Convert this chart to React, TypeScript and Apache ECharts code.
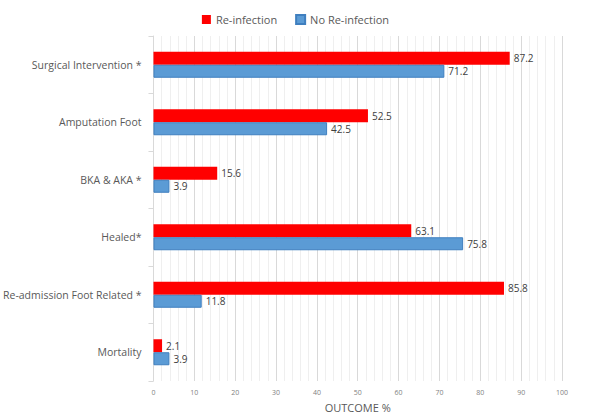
import React, { useEffect, useRef } from "react";
import * as echarts from "echarts";

const categories = [
  "Surgical Intervention *",
  "Amputation Foot",
  "BKA & AKA *",
  "Healed*",
  "Re-admission Foot Related *",
  "Mortality",
];
const reInfection = [87.2, 52.5, 15.6, 63.1, 85.8, 2.1];
const noReInfection = [71.2, 42.5, 3.9, 75.8, 11.8, 3.9];

const FONT = "'Open Sans', sans-serif";

const App = () => {
  const chartRef = useRef<HTMLDivElement>(null);

  useEffect(() => {
    document.body.style.margin = "0";
    if (!chartRef.current) return;
    const chart = echarts.init(chartRef.current, null, { renderer: "svg" });

    const labelStyle = {
      show: true,
      position: "right" as const,
      color: "#404040",
      fontSize: 10,
      fontFamily: FONT,
      distance: 4,
    };

    chart.setOption({
      animation: false,
      textStyle: { fontFamily: FONT },
      legend: {
        top: 9,
        left: "center",
        itemWidth: 9,
        itemHeight: 9,
        itemGap: 18,
        icon: "rect",
        textStyle: { color: "#595959", fontSize: 11, fontFamily: FONT },
        data: ["Re-infection", "No Re-infection"],
      },
      grid: { left: 153, right: 29, top: 36, bottom: 33 },
      xAxis: {
        type: "value",
        min: 0,
        max: 100,
        interval: 10,
        name: "OUTCOME %",
        nameLocation: "middle",
        nameGap: 21,
        nameTextStyle: { color: "#595959", fontSize: 11, fontFamily: FONT },
        axisLine: { show: false },
        axisTick: { show: false },
        axisLabel: { color: "#7f7f7f", fontSize: 7, margin: 8 },
        splitLine: { show: true, lineStyle: { color: "#d9d9d9", width: 1 } },
        minorTick: { show: false, splitNumber: 5 },
        minorSplitLine: { show: true, lineStyle: { color: "#efefef", width: 1 } },
      },
      yAxis: {
        type: "category",
        inverse: true,
        data: categories,
        axisLine: { show: true, lineStyle: { color: "#d9d9d9" } },
        axisTick: { show: true, length: 5, lineStyle: { color: "#d9d9d9" } },
        axisLabel: { color: "#595959", fontSize: 10.5, margin: 12, fontFamily: FONT },
        splitLine: { show: false },
      },
      series: [
        {
          name: "Re-infection",
          type: "bar",
          data: reInfection,
          barWidth: 13,
          barGap: "0%",
          itemStyle: { color: "#ff0000" },
          label: labelStyle,
        },
        {
          name: "No Re-infection",
          type: "bar",
          data: noReInfection,
          barWidth: 13,
          barGap: "0%",
          itemStyle: { color: "#5b9bd5", borderColor: "#3f7fbf", borderWidth: 1 },
          label: labelStyle,
        },
      ],
    });

    return () => chart.dispose();
  }, []);

  return <div ref={chartRef} style={{ width: 591, height: 418 }} />;
};

export default App;
